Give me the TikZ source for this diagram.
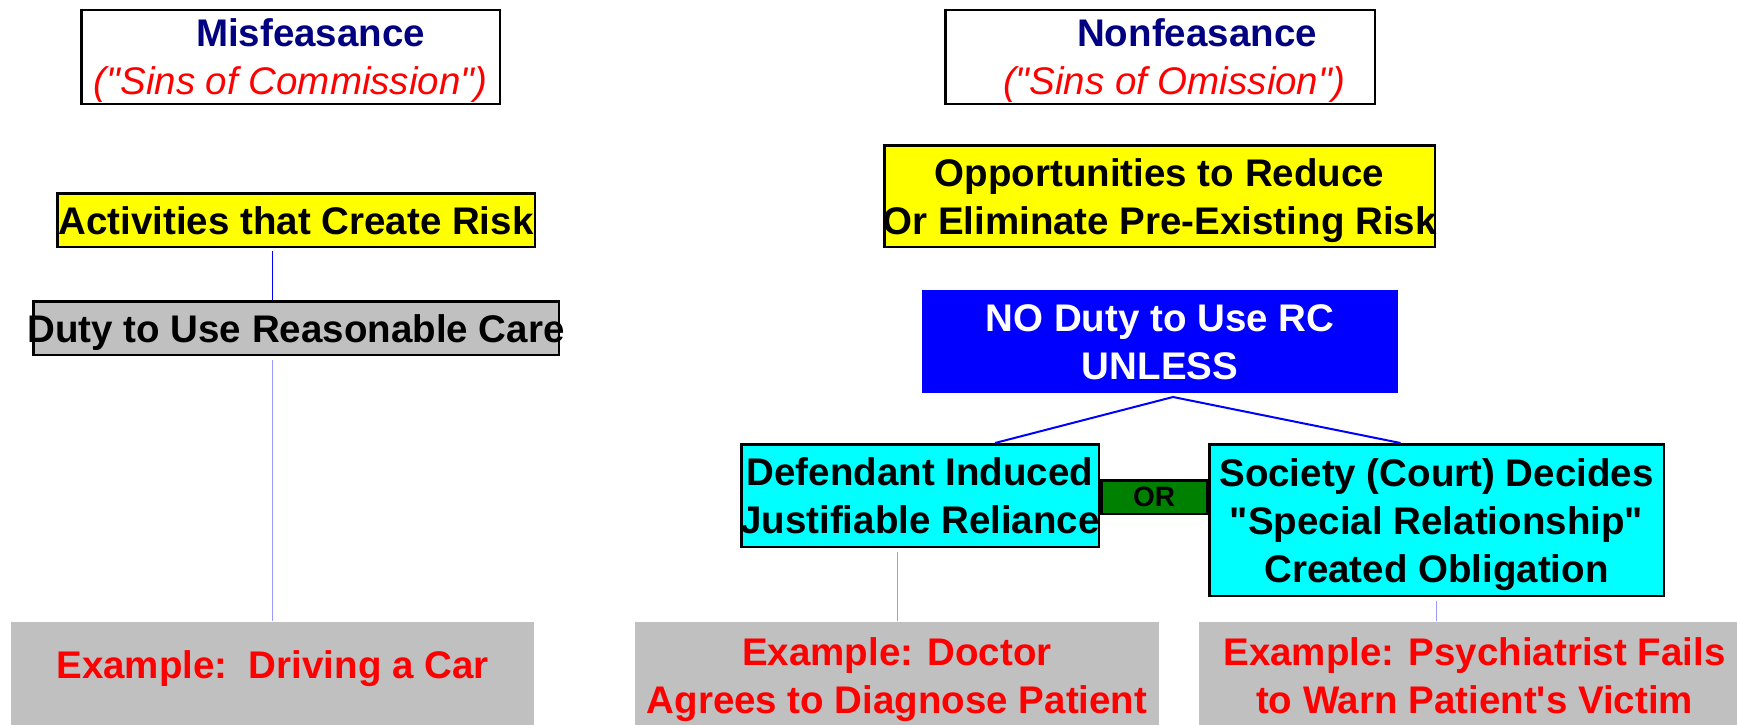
\documentclass[tikz,border=0pt]{standalone}
\usepackage{fontspec}
\setmainfont{Liberation Sans}[Ligatures=TeXOff]
\definecolor{navy}{HTML}{000080}
\definecolor{silver}{HTML}{C0C0C0}
\definecolor{riskyellow}{HTML}{FFFF00}
\definecolor{casecyan}{HTML}{00FFFF}
\definecolor{rcblue}{HTML}{0000FF}
\definecolor{exred}{HTML}{FF0000}
\definecolor{orgreen}{HTML}{008000}
\definecolor{thinblue}{HTML}{9999FF}
\newcommand{\boxline}[1]{\makebox[0pt]{\rule[-9pt]{0pt}{46pt}#1}}
\tikzset{box/.style={draw=black, line width=2.5pt, inner sep=0pt, align=center,
    font=\bfseries\fontsize{38.5}{48}\selectfont}}
\tikzset{titlebox/.style={box, fill=white}}
\tikzset{riskbox/.style={box, fill=riskyellow}}
\tikzset{dutybox/.style={box, fill=silver}}
\tikzset{casebox/.style={box, fill=casecyan}}
\tikzset{examplebox/.style={box, draw=none, fill=silver, text=exred,
    minimum height=106pt}}

\begin{document}
\begin{tikzpicture}[x=1pt, y=-1pt]
    \tikzstyle{link}=[draw=rcblue, line width=1.5pt]
    \tikzstyle{faint}=[draw=thinblue, line width=1pt]
    \useasboundingbox (0,0) rectangle (1737,725);
    \clip (0,0) rectangle (1737,725);
    % misfeasance column
    \node[titlebox, minimum width=418.5pt, minimum height=93.5pt] (mis) at (290.5,57)
      {\boxline{\hspace*{40pt}\color{navy}Misfeasance}\\
       \boxline{\color{exred}\mdseries\itshape("Sins of Commission")}};
    \node[riskbox, minimum width=477.5pt, minimum height=53.5pt] (activ) at (296,220)
      {\boxline{Activities that Create Risk}};
    \node[dutybox, minimum width=525.5pt, minimum height=53.5pt] (duty) at (296,328)
      {\boxline{Duty to Use Reasonable Care}};
    \node[examplebox, minimum width=523pt] (exdrive) at (272.5,675)
      {\boxline{\raisebox{11pt}{Example:\ \ Driving a Car}}};
    % nonfeasance column
    \node[titlebox, minimum width=429.5pt, minimum height=93.5pt] (nonf) at (1160,57)
      {\boxline{\hspace*{74pt}\color{navy}Nonfeasance}\\
       \boxline{\hspace*{28pt}\color{exred}\mdseries\itshape("Sins of Omission")}};
    \node[riskbox, minimum width=550.5pt, minimum height=101.5pt] (opport) at (1159.5,196)
      {\boxline{Opportunities to Reduce}\\ \boxline{Or Eliminate Pre-Existing Risk}};
    \node[box, draw=rcblue, line width=1pt, fill=rcblue, text=white,
      minimum width=475pt, minimum height=102pt] (nodutyrc) at (1160,341.5)
      {\boxline{NO Duty to Use RC}\\ \boxline{UNLESS}};
    \node[casebox, minimum width=357.5pt, minimum height=102.5pt] (induced) at (920,495.5)
      {\boxline{Defendant Induced}\\ \boxline{Justifiable Reliance}};
    \node[casebox, minimum width=454.5pt, minimum height=151.5pt] (special) at (1436.5,520)
      {\boxline{Society (Court) Decides}\\ \boxline{"Special Relationship"}\\
       \boxline{Created Obligation}};
    \node[box, fill=orgreen, font=\bfseries\fontsize{28}{32}\selectfont,
      minimum width=105.5pt, minimum height=33.5pt] (orbox) at (1154,497) {OR};
    \node[examplebox, minimum width=524pt] (exdoctor) at (897,675)
      {\boxline{Example: Doctor}\\ \boxline{Agrees to Diagnose Patient}};
    \node[examplebox, minimum width=551pt] (expsych) at (1474.5,675)
      {\boxline{Example: Psychiatrist Fails}\\ \boxline{to Warn Patient's Victim}};
    % connectors
    \coordinate (fork) at ([xshift=13pt, yshift=-4pt]nodutyrc.south);
    \path[link, shorten <=3pt] (activ.south -| exdrive) edge (duty.north -| exdrive);
    \path[faint, shorten <=4pt] (duty.south -| exdrive) edge (exdrive);
    \draw[link, line width=2pt] ([xshift=75pt]induced.north) -- (fork)
      -- ([xshift=-36pt]special.north);
    \path[faint, shorten <=4pt] (induced.south -| exdoctor) edge (exdoctor);
    \path[faint, shorten <=4pt] (special.south) edge (expsych.north -| special);
\end{tikzpicture}
\end{document}
